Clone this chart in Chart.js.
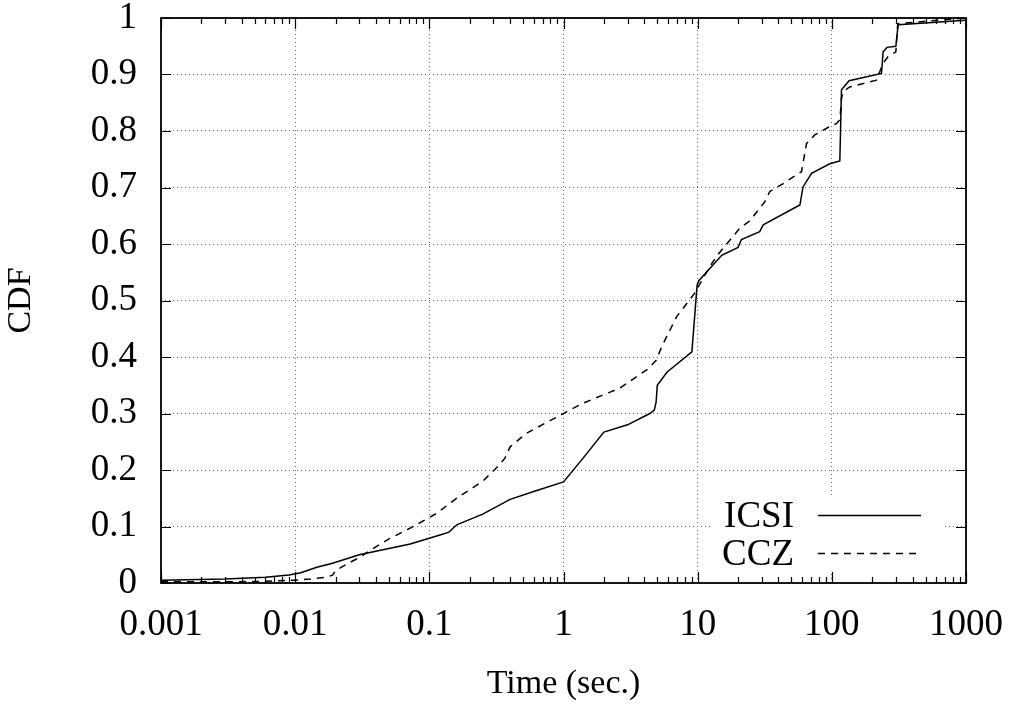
<!DOCTYPE html>
<html>
<head>
<meta charset="utf-8">
<script src="https://cdn.jsdelivr.net/npm/chart.js@4/dist/chart.umd.min.js"></script>
<style>
html,body{margin:0;padding:0;background:#fff;}
#wrap{width:1016px;height:715px;}
</style>
</head>
<body>
<div id="wrap"><canvas id="c" width="1016" height="715"></canvas></div>
<script>
// ---- data ----
const seriesNames = ['ICSI', 'CCZ'];
const icsiX = [0.001,0.003,0.006,0.009,0.011,0.0145,0.019,0.03,0.072,0.12,0.14,0.16,0.25,0.4,0.6,1.0,1.4,2.0,3.0,4.4,4.75,4.9,5.0,5.9,9.06,9.9,10.2,12.7,15.1,20,21.2,29,30.8,57.8,61,70.6,96.6,114.7,118,134.5,234.5,241,258,300,312,1000];
const icsiY = [0.005,0.007,0.01,0.014,0.018,0.028,0.035,0.05,0.069,0.085,0.09,0.103,0.122,0.148,0.162,0.179,0.221,0.267,0.28,0.30,0.306,0.32,0.35,0.373,0.409,0.527,0.535,0.56,0.58,0.594,0.608,0.622,0.634,0.669,0.701,0.725,0.742,0.747,0.873,0.889,0.902,0.94,0.948,0.95,0.988,0.996];
const cczX = [0.001,0.003,0.006,0.01,0.013,0.017,0.019,0.02,0.025,0.03,0.038,0.05,0.072,0.113,0.164,0.25,0.326,0.366,0.4,0.53,0.98,1.36,2.63,2.95,4.27,4.94,5.39,6.96,9.5,12.3,14,20.6,24.5,31.7,34.5,43.4,59.4,64.8,74.6,96.6,108,115,118,122,136,215,241,263,300,310,1000];
const cczY = [0.002,0.002,0.003,0.005,0.007,0.01,0.014,0.022,0.035,0.045,0.061,0.078,0.097,0.123,0.152,0.18,0.207,0.221,0.241,0.265,0.299,0.317,0.345,0.353,0.379,0.395,0.418,0.471,0.513,0.56,0.58,0.628,0.641,0.675,0.693,0.707,0.728,0.778,0.793,0.808,0.813,0.82,0.858,0.87,0.878,0.89,0.92,0.932,0.94,0.99,1.0];
const xTickValues = [0.001,0.01,0.1,1,10,100,1000];
const xTickLabels = ['0.001','0.01','0.1','1','10','100','1000'];
const yTickValues = [0,0.1,0.2,0.3,0.4,0.5,0.6,0.7,0.8,0.9,1];
const yTickLabels = ['0','0.1','0.2','0.3','0.4','0.5','0.6','0.7','0.8','0.9','1'];
const xTitle = 'Time (sec.)';
const yTitle = 'CDF';

const FONT = "'Liberation Serif', 'Times New Roman', serif";
const FS = 34;      // axis titles
const TFS = 37;     // tick labels and key
Chart.defaults.font.family = FONT;
Chart.defaults.color = '#000';

function pts(xs, ys){ return xs.map((x,i)=>({x:x, y:ys[i]})); }

const LEG = {boxL:712, boxR:942, boxT:497, boxB:574, textR:794, lineL:818, lineR:921, rows:[515,553]};

const framePlugin = {
  id:'frame',
  beforeDatasetsDraw(chart){
    const c = chart.ctx;
    c.save();
    c.fillStyle = '#fff';
    c.fillRect(LEG.boxL, LEG.boxT, LEG.boxR-LEG.boxL, LEG.boxB-LEG.boxT);
    c.restore();
  },
  afterDraw(chart){
    const c = chart.ctx, a = chart.chartArea;
    const xs = chart.scales.x, ys = chart.scales.y;
    c.save();
    c.strokeStyle = '#000';
    c.lineWidth = 1.2;
    c.setLineDash([]);
    c.beginPath();
    // minor ticks on log x axis
    for (let i=0;i<xTickValues.length-1;i++){
      for (let k=2;k<=9;k++){
        const px = Math.round(xs.getPixelForValue(xTickValues[i]*k))+0.5;
        c.moveTo(px, a.bottom); c.lineTo(px, a.bottom-6);
        c.moveTo(px, a.top); c.lineTo(px, a.top+6);
      }
    }
    xTickValues.forEach(v=>{
      const px = Math.round(xs.getPixelForValue(v))+0.5;
      c.moveTo(px, a.bottom); c.lineTo(px, a.bottom-11);
      c.moveTo(px, a.top); c.lineTo(px, a.top+11);
    });
    yTickValues.forEach(v=>{
      const py = Math.round(ys.getPixelForValue(v))+0.5;
      c.moveTo(a.left, py); c.lineTo(a.left+10, py);
      c.moveTo(a.right, py); c.lineTo(a.right-10, py);
    });
    c.stroke();
    c.lineWidth = 1.8;
    c.strokeRect(a.left, a.top, a.right-a.left, a.bottom-a.top);
    // legend
    c.font = TFS + 'px ' + FONT;
    c.fillStyle = '#000';
    c.textAlign = 'right';
    c.textBaseline = 'middle';
    chart.data.datasets.forEach((ds,i)=>{
      const y = LEG.rows[i];
      c.fillText(ds.label, LEG.textR, y+2);
      c.lineWidth = ds.borderWidth;
      c.setLineDash(ds.borderDash || []);
      c.beginPath();
      c.moveTo(LEG.lineL, y+0.5); c.lineTo(LEG.lineR, y+0.5);
      c.stroke();
    });
    c.restore();
  }
};

new Chart(document.getElementById('c'), {
  type: 'line',
  data: {
    datasets: [
      {label: seriesNames[0], data: pts(icsiX, icsiY), borderColor:'#000', borderWidth:1.5, pointRadius:0, tension:0, fill:false},
      {label: seriesNames[1], data: pts(cczX, cczY), borderColor:'#000', borderWidth:1.5, borderDash:[7,6], pointRadius:0, tension:0, fill:false}
    ]
  },
  options: {
    responsive:false,
    animation:false,
    events:[],
    layout:{padding:{left:0, top:18, right:50, bottom:0}},
    plugins:{legend:{display:false}, tooltip:{enabled:false}},
    scales:{
      x:{
        type:'logarithmic', min:0.001, max:1000,
        afterBuildTicks(s){ s.ticks = xTickValues.map(v=>({value:v})); },
        afterFit(s){ s.height = 132; s.paddingLeft = 0; s.paddingRight = 0; },
        ticks:{ font:{size:TFS, family:FONT}, color:'#000', padding:20, maxRotation:0, autoSkip:false,
          callback(v, i){ return xTickLabels[i]; } },
        grid:{ color:'#666', lineWidth:1, drawTicks:false },
        border:{ display:false, dash:[1,3] },
        title:{ display:true, text:xTitle, font:{size:FS, family:FONT}, color:'#000', padding:{top:0, bottom:11} }
      },
      y:{
        type:'linear', min:0, max:1,
        afterBuildTicks(s){ s.ticks = yTickValues.map(v=>({value:v})); },
        afterFit(s){ s.width = 161; s.paddingTop = 0; s.paddingBottom = 0; },
        ticks:{ font:{size:TFS, family:FONT}, color:'#000', padding:24, autoSkip:false,
          callback(v, i){ return yTickLabels[i]; } },
        grid:{ color:'#666', lineWidth:1, drawTicks:false },
        border:{ display:false, dash:[1,3] },
        title:{ display:true, text:yTitle, font:{size:FS, family:FONT}, color:'#000', padding:{top:1, bottom:0} }
      }
    }
  },
  plugins:[framePlugin]
});
</script>
</body>
</html>
